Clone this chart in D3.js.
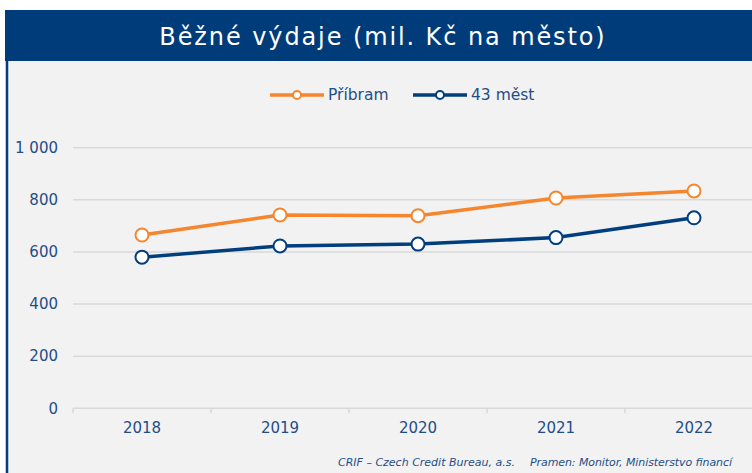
<!DOCTYPE html>
<html>
<head>
<meta charset="utf-8">
<script src="https://cdn.jsdelivr.net/npm/d3@7"></script>
<style>
  body { margin: 0; background: #fff; }
  svg { display: block; font-family: "DejaVu Sans", Verdana, sans-serif; }
</style>
</head>
<body>
<div id="chart"></div>
<script>
// data
const years = ["2018", "2019", "2020", "2021", "2022"];
const pribram = [665, 742, 739, 807, 834];
const mest43 = [580, 623, 630, 655, 731];
const yTicks = [0, 200, 400, 600, 800, 1000];
const seriesNames = ["Příbram", "43 měst"];

const W = 752, H = 473;
const orange = "#f5862e";
const navy = "#003e7e";
const textBlue = "#1f4e86";

const svg = d3.select("#chart").append("svg")
    .attr("width", W)
    .attr("height", H);

// panel background + left border
svg.append("rect")
    .attr("x", 7).attr("y", 61)
    .attr("width", W - 7).attr("height", H - 61)
    .attr("fill", "#f2f2f2");
svg.append("line")
    .attr("x1", 7).attr("x2", 7)
    .attr("y1", 10).attr("y2", H)
    .attr("stroke", navy)
    .attr("stroke-width", 2.5);

// title bar
svg.append("rect")
    .attr("x", 5).attr("y", 10)
    .attr("width", W - 5).attr("height", 51)
    .attr("fill", "#003b7a");
svg.append("text")
    .attr("x", 383).attr("y", 45)
    .attr("text-anchor", "middle")
    .attr("fill", "#fff")
    .style("font-size", "24px")
    .style("letter-spacing", "1.9px")
    .text("Běžné výdaje (mil. Kč na město)");

// scales
const x = d3.scaleBand()
    .domain(years)
    .range([73, 763]);

const y = d3.scaleLinear()
    .domain([0, 1000])
    .range([408.3, 147.7]);

// gridlines
svg.append("g")
    .selectAll("line")
    .data(yTicks)
    .join("line")
    .attr("x1", 73).attr("x2", W)
    .attr("y1", d => y(d)).attr("y2", d => y(d))
    .attr("stroke", "#d9d9d9")
    .attr("stroke-width", 1.5);

// y labels
svg.append("g")
    .selectAll("text")
    .data(yTicks)
    .join("text")
    .attr("x", 58)
    .attr("y", d => y(d))
    .attr("dy", "0.35em")
    .attr("text-anchor", "end")
    .attr("fill", textBlue)
    .style("font-size", "15px")
    .text(d => d3.format(",")(d).replace(",", " "));

// x axis
const xAxis = svg.append("g")
    .attr("transform", `translate(0,${y(0)})`)
    .call(d3.axisBottom(x).tickSize(0).tickPadding(14));
xAxis.select(".domain").remove();
xAxis.selectAll("text")
    .attr("fill", textBlue)
    .style("font-size", "15px")
    .style("font-family", "DejaVu Sans, Verdana, sans-serif");

svg.append("g")
    .selectAll("line")
    .data(years.concat(["end"]))
    .join("line")
    .attr("x1", (d, i) => 73 + i * x.step())
    .attr("x2", (d, i) => 73 + i * x.step())
    .attr("y1", y(0)).attr("y2", y(0) + 5)
    .attr("stroke", "#d9d9d9")
    .attr("stroke-width", 1.5);

// lines + markers
const line = d3.line()
    .x((d, i) => x(years[i]) + x.bandwidth() / 2)
    .y(d => y(d));

[[pribram, orange], [mest43, navy]].forEach(([vals, col]) => {
    svg.append("path")
        .datum(vals)
        .attr("fill", "none")
        .attr("stroke", col)
        .attr("stroke-width", 3.5)
        .attr("d", line);

    svg.append("g")
        .selectAll("circle")
        .data(vals)
        .join("circle")
        .attr("cx", (d, i) => x(years[i]) + x.bandwidth() / 2)
        .attr("cy", d => y(d))
        .attr("r", 6.5)
        .attr("fill", "#fff")
        .attr("stroke", col)
        .attr("stroke-width", 2);
});

// legend
const legend = [
    { name: seriesNames[0], col: orange, x0: 270 },
    { name: seriesNames[1], col: navy, x0: 413 }
];
legend.forEach(l => {
    const g = svg.append("g").attr("transform", `translate(${l.x0},95)`);
    g.append("line")
        .attr("x1", 0).attr("x2", 54)
        .attr("stroke", l.col)
        .attr("stroke-width", 3.5);
    g.append("circle")
        .attr("cx", 27).attr("r", 4)
        .attr("fill", "#fff")
        .attr("stroke", l.col)
        .attr("stroke-width", 2);
    g.append("text")
        .attr("x", 58).attr("dy", "0.35em")
        .attr("fill", textBlue)
        .style("font-size", "15.5px")
        .text(l.name);
});

// footer
const foot = svg.append("g")
    .attr("fill", textBlue)
    .style("font-size", "11px")
    .style("font-style", "italic");
foot.append("text")
    .attr("x", 338).attr("y", 466)
    .text("CRIF – Czech Credit Bureau, a.s.");
foot.append("text")
    .attr("x", 530).attr("y", 466)
    .attr("textLength", 202)
    .attr("lengthAdjust", "spacing")
    .text("Pramen: Monitor, Ministerstvo financí");
</script>
</body>
</html>
